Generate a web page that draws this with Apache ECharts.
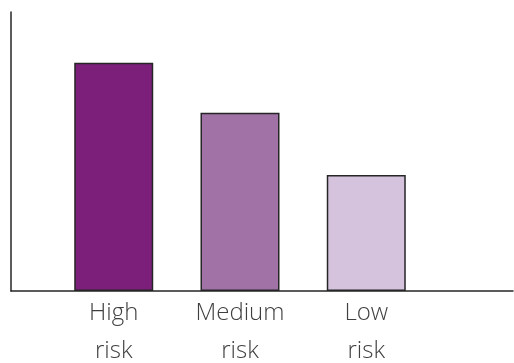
<!DOCTYPE html>
<html>
<head>
<meta charset="utf-8">
<script src="https://cdn.jsdelivr.net/npm/echarts@6/dist/echarts.min.js"></script>
<style>
  html, body { margin: 0; padding: 0; background: #fff; }
  #chart { width: 514px; height: 363px; }
</style>
</head>
<body>
<div id="chart"></div>
<script>
// Risk groups and their bar heights (share, %)
const categories = ['High\nrisk', 'Medium\nrisk', 'Low\nrisk'];
const values = [81.8, 63.9, 41.6];
const barColors = ['#7b1f7b', '#a072a6', '#d5c3dd'];
const yMax = 100;

const chart = echarts.init(document.getElementById('chart'), null, { renderer: 'canvas' });

const axisLineStyle = { color: '#262626', width: 1.5 };

chart.setOption({
  animation: false,
  backgroundColor: '#ffffff',
  grid: [
    // plotting area for the bars
    { left: 50.6, right: 84.6, top: 12, bottom: 72, outerBoundsMode: 'none', containLabel: false },
    // full-width frame carrying the visible axis lines
    { left: 11, right: 1, top: 12, bottom: 72, outerBoundsMode: 'none', containLabel: false }
  ],
  xAxis: [
    {
      type: 'category',
      gridIndex: 0,
      data: categories,
      axisLine: { show: false },
      axisTick: { show: false },
      axisLabel: {
        margin: 3,
        fontFamily: 'Open Sans',
        fontWeight: 300,
        fontSize: 24,
        lineHeight: 38,
        color: '#3f3f3f'
      }
    },
    {
      type: 'category',
      gridIndex: 1,
      data: [],
      axisLine: { show: true, lineStyle: axisLineStyle },
      axisTick: { show: false },
      axisLabel: { show: false }
    }
  ],
  yAxis: [
    {
      type: 'value',
      gridIndex: 0,
      min: 0,
      max: yMax,
      show: false
    },
    {
      type: 'value',
      gridIndex: 1,
      min: 0,
      max: yMax,
      axisLine: { show: true, lineStyle: axisLineStyle },
      axisTick: { show: false },
      axisLabel: { show: false },
      splitLine: { show: false }
    }
  ],
  series: [
    {
      type: 'bar',
      xAxisIndex: 0,
      yAxisIndex: 0,
      barWidth: 79,
      data: values.map((v, i) => ({
        value: v,
        itemStyle: { color: barColors[i] }
      })),
      itemStyle: { borderColor: '#262626', borderWidth: 1.5 }
    }
  ]
});
</script>
</body>
</html>
